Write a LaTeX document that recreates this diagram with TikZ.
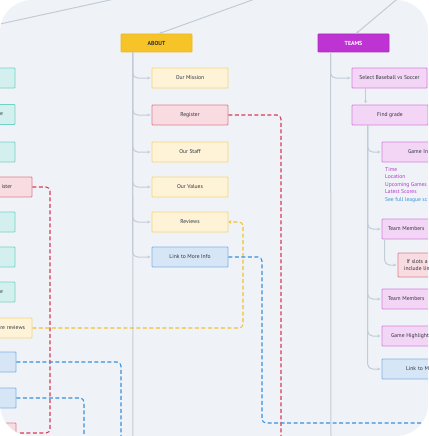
\documentclass[tikz,border=0pt]{standalone}
\usepackage{fontspec}
\setmainfont{PT Sans}
\usetikzlibrary{arrows.meta}
\definecolor{card}{HTML}{EFF3F7}
\definecolor{txt}{HTML}{2E3340}
\definecolor{gline}{HTML}{C2CCD7}
\definecolor{aboutfill}{HTML}{F6C328}
\definecolor{aboutline}{HTML}{ECB91F}
\definecolor{teamsfill}{HTML}{BE34D2}
\definecolor{teamsline}{HTML}{A92BBB}
\definecolor{yfill}{HTML}{FEF3D6}
\definecolor{yline}{HTML}{F4D47C}
\definecolor{pkfill}{HTML}{F8DCE1}
\definecolor{pkline}{HTML}{DE7D8C}
\definecolor{blfill}{HTML}{D6E6F6}
\definecolor{blline}{HTML}{7FB2E5}
\definecolor{tfill}{HTML}{D3F0EE}
\definecolor{tline}{HTML}{74D1C6}
\definecolor{vfill}{HTML}{F3D6F5}
\definecolor{vline}{HTML}{D683E1}
\definecolor{reddash}{HTML}{D63D55}
\definecolor{yeldash}{HTML}{F2C12E}
\definecolor{bludash}{HTML}{3B8EDC}
\definecolor{lpurple}{HTML}{B536CB}
\definecolor{lblue}{HTML}{3A8FDD}
\begin{document}
\begin{tikzpicture}[x=1pt,y=-1pt,
  every node/.style={font=\fontsize{5.6}{7}\selectfont, text=txt, inner sep=0pt},
  box/.style={draw, line width=0.8pt, minimum height=20pt, rounded corners=0.8pt, align=center},
  ybox/.style={box, fill=yfill, draw=yline},
  pkbox/.style={box, fill=pkfill, draw=pkline},
  blubox/.style={box, fill=blfill, draw=blline},
  tealbox/.style={box, fill=tfill, draw=tline},
  vbox/.style={box, fill=vfill, draw=vline},
  hdbox/.style={draw, line width=0.8pt, minimum width=71pt, minimum height=18pt, rounded corners=0.8pt, font=\fontsize{5.8}{7}\selectfont\bfseries},
  trunk/.style={draw=gline, line width=1pt},
  branch/.style={trunk, rounded corners=5pt, -{Stealth[length=3pt,width=3pt]}, shorten >=1.2pt},
  dl/.style={line width=1.05pt, dash pattern=on 4pt off 2.5pt, rounded corners=4pt},
]
\useasboundingbox (0,0) rectangle (428,436);
\fill[white] (0,0) rectangle (428,436);
\begin{scope}
\clip[rounded corners=32pt] (0,0) rectangle (428,436);
\fill[card] (0,0) rectangle (428,436);

% headers
\node[hdbox, fill=aboutfill, draw=aboutline] (about) at (156.5,43) {ABOUT};
\node[hdbox, fill=teamsfill, draw=teamsline, text=white] (teams) at (353.5,43) {TEAMS};

% about children
\node[ybox, minimum width=76pt] (mission) at (190,78) {Our Mission};
\node[pkbox, minimum width=76pt] (register) at (190,115) {Register};
\node[ybox, minimum width=76pt] (staff) at (190,152) {Our Staff};
\node[ybox, minimum width=76pt] (values) at (190,187) {Our Values};
\node[ybox, minimum width=76pt] (reviews) at (190,222) {Reviews};
\node[blubox, minimum width=76pt] (link) at (190,257) {Link to More Info};

% left column (cut off)
\node[tealbox, minimum width=70pt] (lt1) at (-20,78) {};
\node[tealbox, text width=46pt, inner xsep=12pt, align=right] (lt2) at (-20,114.5) {e};
\node[tealbox, minimum width=70pt] (lt3) at (-20,152) {};
\node[pkbox, text width=22pt, inner xsep=20pt, align=right] (lreg) at (1,187) {ister};
\node[tealbox, minimum width=70pt] (lt4) at (-20,222) {};
\node[tealbox, minimum width=70pt] (lt5) at (-20,257) {};
\node[tealbox, text width=46pt, inner xsep=12pt, align=right] (lt6) at (-20,292) {e};
\node[ybox, text width=48pt, inner xsep=7pt, align=right] (lrev) at (1,328) {re reviews};
\node[blubox, minimum width=70pt] (lb1) at (-19,362) {};
\node[blubox, minimum width=70pt] (lb2) at (-19,398) {};
\node[pkbox, minimum width=70pt] (lpk) at (-19,433) {};

% teams children
\node[vbox, minimum width=75pt] (select) at (389.5,78) {Select Baseball vs Soccer};
\node[vbox, minimum width=76pt] (grade) at (390,115) {Find grade};
\node[vbox, text width=40pt, inner xsep=26pt, align=left] (game) at (428,152) {Game In};
\node[anchor=west, align=left, font=\fontsize{5.6}{7.5}\selectfont] (info) at (385,185)
  {\textcolor{lpurple}{Time}\\\textcolor{lpurple}{Location}\\\textcolor{lpurple}{Upcoming Games}\\\textcolor{lpurple}{Latest Scores}\\\textcolor{lblue}{See full league sc}};
\node[vbox, text width=80pt, inner xsep=6pt, align=left] (tm1) at (428,229) {Team Members};
\node[pkbox, minimum height=24pt, text width=60pt, inner xsep=6pt, align=left] (slots) at (434,265) {\hspace*{2.5pt}If slots a\\include lim};
\node[vbox, text width=80pt, inner xsep=6pt, align=left] (tm2) at (428,299) {Team Members};
\node[vbox, text width=74pt, inner xsep=9pt, align=left] (gh) at (428,336) {Game Highlight};
\node[blubox, text width=44pt, inner xsep=24pt, align=left] (linkm) at (428,369) {Link to M};

% free ends
\coordinate (top1a) at (-10,26.2);
\coordinate (top1b) at (116,-1.3);
\coordinate (top2) at (256,-1.4);
\coordinate (top3) at (398,-1.6);
\coordinate (aboutend) at (133,440);
\coordinate (teamsend) at (331,440);
\coordinate (redend) at (281,440);
\coordinate (rc1) at (50,433);
\coordinate (yc) at (243,275);
\coordinate (bc) at (262,423);
\coordinate (bend) at (440,423);
\coordinate (lb1end) at (121,440);
\coordinate (lb2end) at (84,440);

% top connectors
\draw[trunk] (top1a) -- (top1b);
\draw[trunk, -{Stealth[length=3pt,width=3pt]}] (top2) -- ([xshift=2.5pt]about.north);
\draw[trunk, -{Stealth[length=3pt,width=3pt]}] (top3) -- ([xshift=2.5pt]teams.north);

% about tree
\draw[trunk] ([xshift=12pt]about.south west) -- (aboutend);
\foreach \c in {mission,register,staff,values,reviews,link}
  \draw[branch] ([xshift=12pt]about.south west) |- (\c.west);

% teams tree
\draw[trunk] ([xshift=13pt]teams.south west) -- (teamsend);
\draw[branch] ([xshift=13pt]teams.south west) |- (select.west);
\draw[trunk, -{Stealth[length=3pt,width=3pt]}, shorten >=1.2pt] ([xshift=14pt]select.south west) -- ([xshift=14pt]grade.north west);
\foreach \c in {game,tm1,tm2,gh,linkm}
  \draw[branch] ([xshift=16pt]grade.south west) |- (\c.west);
\draw[branch] ([xshift=3pt]tm1.south west) |- (slots.west);

% dashed links
\draw[dl, draw=reddash] (register.east) -| (redend);
\draw[dl, draw=reddash] (lreg.east) -| (rc1) -- (lpk.east);
\draw[dl, draw=yeldash, -{Stealth[length=3pt,width=3.5pt]}] (lrev.east) -| (yc) |- (reviews.east);
\draw[dl, draw=bludash] (link.east) -| (bc) -- (bend);
\draw[dl, draw=bludash] (lb1.east) -| (lb1end);
\draw[dl, draw=bludash] (lb2.east) -| (lb2end);
\end{scope}
\end{tikzpicture}
\end{document}
